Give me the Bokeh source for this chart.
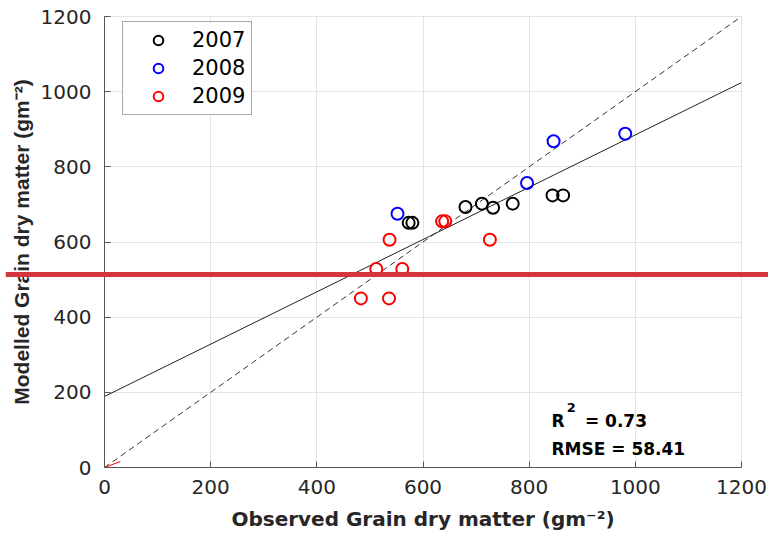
from bokeh.plotting import figure
from bokeh.models import Range1d, Label, Legend, LegendItem, SingleIntervalTicker
from bokeh.embed import file_html
from bokeh.resources import INLINE

# ---- data ----
years = ["2007", "2008", "2009"]
colors = ["#000000", "#0000ff", "#ff0000"]

obs_2007 = [573, 580, 680, 711, 732, 769, 844, 864]
mod_2007 = [651, 651, 693, 702, 691, 702, 724, 724]
obs_2008 = [552, 846, 796, 981]
mod_2008 = [675, 868, 757, 888]
obs_2009 = [537, 636, 642, 726, 512, 561, 483, 536]
mod_2009 = [606, 655, 655, 606, 528, 528, 450, 450]

axis_min, axis_max, tick_step = 0, 1200, 200
fit_intercept = 189
fit_slope = 0.696
red_seg_x = [0, 30]
red_seg_y = [0, 16]
hline_y = 513.5
r2_value = "0.73"
rmse_value = "58.41"

series_x = [obs_2007, obs_2008, obs_2009]
series_y = [mod_2007, mod_2008, mod_2009]

p = figure(width=768, height=543, output_backend="svg", toolbar_location=None,
           x_range=Range1d(axis_min, axis_max), y_range=Range1d(axis_min, axis_max),
           min_border_left=104, min_border_right=27, min_border_top=16, min_border_bottom=76)
p.background_fill_color = "white"
p.border_fill_color = "white"
p.outline_line_color = "#e3e3e3"

for ax in (p.xaxis[0], p.yaxis[0]):
    ax.ticker = SingleIntervalTicker(interval=tick_step)
    ax.axis_line_color = "#555555"
    ax.axis_line_width = 1
    ax.major_tick_line_color = "#555555"
    ax.major_tick_in = 6
    ax.major_tick_out = 0
    ax.minor_tick_line_color = None
    ax.major_label_text_font = "DejaVu Sans"
    ax.major_label_text_font_size = "20px"
    ax.major_label_text_color = "#262626"
    ax.axis_label_text_font_style = "bold"
    ax.axis_label_text_color = "#262626"

p.xaxis.major_label_standoff = 8
p.yaxis.major_label_standoff = 9
p.xaxis.axis_label = "Observed Grain dry matter (gm\u207b\u00b2)"
p.xaxis.axis_label_text_font = "DejaVu Sans"
p.xaxis.axis_label_text_font_size = "20px"
p.xaxis.axis_label_standoff = 10
p.yaxis.axis_label = "Modelled Grain dry matter (gm\u207b\u00b2)"
p.yaxis.axis_label_text_font = "Liberation Sans"
p.yaxis.axis_label_text_font_size = "21px"
p.yaxis.axis_label_standoff = 5

p.xgrid.grid_line_color = "#e3e3e3"
p.ygrid.grid_line_color = "#e3e3e3"
p.xgrid.ticker = SingleIntervalTicker(interval=tick_step)
p.ygrid.ticker = SingleIntervalTicker(interval=tick_step)

# 1:1 line (dashed)
one_x = [axis_min, axis_max]
p.line(one_x, one_x, line_color="#333333", line_width=1, line_dash="6 4")
# regression line
fit_y = [fit_intercept + fit_slope * v for v in one_x]
p.line(one_x, fit_y, line_color="#222222", line_width=1)
# small red segment at origin
p.line(red_seg_x, red_seg_y, line_color="#ff0000", line_width=1)

items = []
for yr, c, xs, ys in zip(years, colors, series_x, series_y):
    r = p.scatter(xs, ys, marker="circle", size=12, fill_color=None,
                  line_color=c, line_width=2)
    items.append(LegendItem(label=yr, renderers=[r]))

legend = Legend(items=items, location=(18, 352))
legend.label_text_font = "DejaVu Sans"
legend.label_text_font_size = "21px"
legend.label_text_color = "#000000"
legend.glyph_width = 58
legend.glyph_height = 24
legend.label_height = 24
legend.label_standoff = 5
legend.spacing = 4
legend.padding = 6
legend.margin = 0
legend.border_line_color = "#555555"
legend.border_line_width = 1
legend.background_fill_color = "white"
legend.background_fill_alpha = 1
p.add_layout(legend)

def stat_label(x, y, text, size):
    p.add_layout(Label(x=x, y=y, text=text, text_font="DejaVu Sans",
                       text_font_style="bold", text_font_size=size, text_color="#000000",
                       text_baseline="alphabetic"))

stat_label(842, 125, "R", "17px")
stat_label(871, 160, "2", "13px")
stat_label(905, 125, "= " + r2_value, "17px")
stat_label(842, 50, "RMSE = " + rmse_value, "17px")

# thick red horizontal line across the whole canvas (padded label background,
# placed in the top side panel so that it is not clipped to the frame)
band = Label(x=532, y=hline_y, text="\u00a0", text_font_size="1px",
             text_align="center", text_baseline="middle",
             background_fill_color="#d3363d", background_fill_alpha=1.0,
             padding=(381, 2), level="overlay")
p.add_layout(band, "above")

open("out.html", "w").write(file_html(p, INLINE))
